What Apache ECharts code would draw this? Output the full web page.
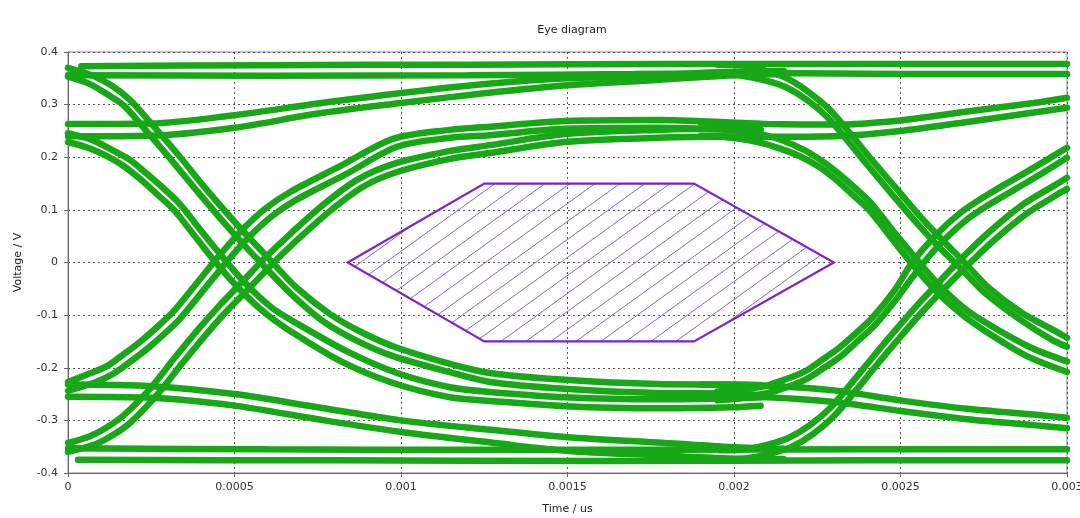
<!DOCTYPE html>
<html>
<head>
<meta charset="utf-8">
<script src="https://cdn.jsdelivr.net/npm/echarts@6/dist/echarts.min.js"></script>
<style>
  html, body { margin: 0; padding: 0; background: #fff; }
  #chart { width: 1080px; height: 518px; }
</style>
</head>
<body>
<div id="chart"></div>
<script>
// axis ticks
var xTickLabels = ['0', '0.0005', '0.001', '0.0015', '0.002', '0.0025', '0.003'];
var yTickLabels = ['-0.4', '-0.3', '-0.2', '-0.1', '0', '0.1', '0.2', '0.3', '0.4'];

// eye mask (hexagon)
var maskX = [0.00084, 0.00125, 0.00188, 0.0023, 0.00188, 0.00125];
var maskY = [0, 0.15, 0.15, 0, -0.15, -0.15];

// flat top / bottom levels
var topA = [[0.00004,0.373],[0.0006,0.375],[0.0012,0.376],[0.0018,0.377],[0.0024,0.377],[0.003,0.377]];
var topB = [[0,0.356],[0.0006,0.355],[0.0012,0.356],[0.0017,0.358],[0.0021,0.36],[0.0025,0.358],[0.003,0.358]];
var botA = [[0,-0.353],[0.0006,-0.355],[0.0012,-0.356],[0.0018,-0.356],[0.0024,-0.355],[0.003,-0.355]];
var botB = [[0.00003,-0.375],[0.0008,-0.376],[0.0016,-0.377],[0.0024,-0.376],[0.003,-0.376]];

// slow rise / fall (left part)
var slowRiseA = [[0,0.263],[0.00025,0.264],[0.0005,0.28],[0.00075,0.302],[0.001,0.322],[0.00127,0.34],[0.0015,0.35],[0.00177,0.356],[0.00197,0.362],[0.00215,0.364]];
var slowRiseB = [[0,0.24],[0.00025,0.241],[0.0005,0.256],[0.00075,0.283],[0.001,0.303],[0.00127,0.323],[0.0015,0.337],[0.00177,0.347],[0.00197,0.355],[0.00215,0.358]];
var slowFallA = [[0,-0.232],[0.00025,-0.235],[0.0005,-0.25],[0.00075,-0.275],[0.001,-0.3],[0.00127,-0.318],[0.0015,-0.332],[0.00177,-0.342],[0.00197,-0.35],[0.00215,-0.354]];
var slowFallB = [[0,-0.255],[0.00025,-0.257],[0.0005,-0.272],[0.00075,-0.298],[0.001,-0.322],[0.00127,-0.342],[0.0015,-0.358],[0.00177,-0.366],[0.00197,-0.372],[0.00215,-0.374]];

// falling edges (left crossing)
var fallHighA = [[0,0.37],[0.000075,0.355],[0.000132,0.336],[0.000186,0.309],[0.000264,0.254],[0.000336,0.201],[0.000405,0.147],[0.000474,0.096],[0.000547,0.045],[0.000607,0.005],[0.000685,-0.047],[0.000787,-0.098],[0.000886,-0.134],[0.000988,-0.162],[0.00115,-0.193],[0.001267,-0.21],[0.001492,-0.223],[0.001769,-0.231],[0.001997,-0.232],[0.00208,-0.233]];
var fallHighB = [[0,0.353],[0.000066,0.339],[0.000117,0.32],[0.000168,0.298],[0.000246,0.242],[0.000318,0.189],[0.000387,0.136],[0.000456,0.085],[0.000529,0.033],[0.000589,-0.007],[0.000667,-0.058],[0.000769,-0.113],[0.000868,-0.149],[0.000976,-0.178],[0.001144,-0.208],[0.001267,-0.227],[0.001492,-0.24],[0.001769,-0.248],[0.001997,-0.249],[0.00208,-0.252]];
var fallMidA = [[0,0.246],[0.000072,0.233],[0.000132,0.214],[0.000186,0.195],[0.000234,0.17],[0.000285,0.142],[0.000336,0.111],[0.000405,0.056],[0.000471,0.005],[0.000535,-0.041],[0.00061,-0.085],[0.000685,-0.115],[0.000835,-0.168],[0.000988,-0.21],[0.001147,-0.237],[0.001267,-0.246],[0.001492,-0.256],[0.001769,-0.26],[0.001997,-0.258],[0.00208,-0.256]];
var fallMidB = [[0,0.229],[0.00006,0.218],[0.000117,0.202],[0.000168,0.183],[0.000216,0.159],[0.000267,0.13],[0.000318,0.1],[0.000387,0.045],[0.000453,-0.007],[0.000517,-0.052],[0.000592,-0.096],[0.000667,-0.13],[0.000817,-0.187],[0.000976,-0.229],[0.001147,-0.256],[0.001267,-0.263],[0.001492,-0.273],[0.001769,-0.277],[0.001997,-0.275],[0.00208,-0.272]];

// rising edges (left crossing)
var riseMidA = [[0,-0.227],[0.000069,-0.21],[0.000117,-0.197],[0.000168,-0.174],[0.000216,-0.151],[0.000267,-0.123],[0.000318,-0.092],[0.000387,-0.039],[0.000453,0.012],[0.000517,0.058],[0.000592,0.102],[0.000667,0.134],[0.000817,0.183],[0.000976,0.235],[0.001147,0.252],[0.001267,0.258],[0.001492,0.269],[0.001769,0.271],[0.001997,0.266],[0.00208,0.263]];
var riseMidB = [[0,-0.244],[0.000084,-0.227],[0.000135,-0.212],[0.000186,-0.189],[0.000234,-0.166],[0.000285,-0.138],[0.000336,-0.107],[0.000405,-0.054],[0.000471,-0.003],[0.000535,0.043],[0.00061,0.087],[0.000685,0.119],[0.000835,0.168],[0.000988,0.22],[0.001147,0.237],[0.001267,0.242],[0.001492,0.254],[0.001769,0.256],[0.001997,0.252],[0.00208,0.25]];
var riseLowA = [[0,-0.343],[0.000066,-0.33],[0.000117,-0.313],[0.000168,-0.29],[0.000246,-0.24],[0.000318,-0.183],[0.000387,-0.13],[0.000456,-0.081],[0.000529,-0.033],[0.000589,0.007],[0.000667,0.054],[0.000769,0.111],[0.000868,0.157],[0.000976,0.187],[0.001147,0.212],[0.001267,0.223],[0.001492,0.244],[0.001769,0.252],[0.001997,0.254],[0.00208,0.252]];
var riseLowB = [[0,-0.36],[0.000084,-0.345],[0.000135,-0.328],[0.000186,-0.305],[0.000264,-0.254],[0.000336,-0.197],[0.000405,-0.144],[0.000474,-0.094],[0.000547,-0.047],[0.000607,-0.007],[0.000685,0.041],[0.000787,0.098],[0.000886,0.144],[0.000988,0.172],[0.001147,0.197],[0.001267,0.208],[0.001492,0.229],[0.001769,0.237],[0.001997,0.239],[0.00208,0.238]];

// right part
var slowRiseRA = [[0.0019,0.266],[0.0021,0.263],[0.0023,0.262],[0.0025,0.27],[0.0027,0.287],[0.0029,0.303],[0.003,0.313]];
var slowRiseRB = [[0.0019,0.241],[0.0021,0.239],[0.0023,0.24],[0.0025,0.25],[0.0027,0.267],[0.0029,0.285],[0.003,0.294]];
var slowFallRA = [[0.0019,-0.232],[0.0021,-0.234],[0.0023,-0.243],[0.0025,-0.262],[0.0027,-0.278],[0.0029,-0.289],[0.003,-0.295]];
var slowFallRB = [[0.0019,-0.254],[0.0021,-0.256],[0.0023,-0.265],[0.0025,-0.282],[0.0027,-0.298],[0.0029,-0.309],[0.003,-0.315]];
var fallHighRA = [[0.00195,0.376],[0.002033,0.374],[0.002108,0.362],[0.002168,0.347],[0.002228,0.322],[0.002288,0.29],[0.002348,0.246],[0.002414,0.195],[0.002483,0.144],[0.002553,0.092],[0.002625,0.043],[0.002688,0.003],[0.002763,-0.047],[0.002865,-0.096],[0.002964,-0.13],[0.003,-0.143]];
var fallHighRB = [[0.00195,0.358],[0.002024,0.355],[0.002099,0.345],[0.002159,0.332],[0.002219,0.309],[0.002279,0.277],[0.002339,0.233],[0.002405,0.182],[0.002474,0.13],[0.002543,0.079],[0.002616,0.029],[0.002679,-0.01],[0.002754,-0.058],[0.002856,-0.107],[0.002955,-0.147],[0.003,-0.16]];
var fallMidRA = [[0.00195,0.258],[0.002018,0.25],[0.002093,0.242],[0.00215,0.231],[0.00221,0.214],[0.002264,0.193],[0.002312,0.17],[0.002363,0.142],[0.002414,0.111],[0.002483,0.056],[0.00255,0.005],[0.002613,-0.041],[0.002688,-0.085],[0.002763,-0.117],[0.002889,-0.161],[0.003,-0.188]];
var fallMidRB = [[0.00195,0.24],[0.002018,0.235],[0.002084,0.227],[0.002141,0.216],[0.002198,0.202],[0.002255,0.182],[0.002303,0.159],[0.002354,0.13],[0.002405,0.1],[0.002474,0.045],[0.00254,-0.007],[0.002603,-0.052],[0.002679,-0.096],[0.002754,-0.13],[0.00288,-0.178],[0.003,-0.208]];
var riseMidRA = [[0.00195,-0.245],[0.002018,-0.242],[0.002093,-0.235],[0.00215,-0.223],[0.00221,-0.208],[0.002264,-0.185],[0.002312,-0.164],[0.002363,-0.136],[0.002414,-0.106],[0.002483,-0.052],[0.002534,-0.001],[0.002603,0.05],[0.002679,0.094],[0.002754,0.126],[0.002889,0.176],[0.003,0.218]];
var riseMidRB = [[0.00195,-0.262],[0.002018,-0.258],[0.002102,-0.248],[0.002159,-0.237],[0.002219,-0.221],[0.002273,-0.199],[0.002321,-0.178],[0.002372,-0.149],[0.002423,-0.119],[0.002492,-0.066],[0.00255,-0.016],[0.002619,0.035],[0.002694,0.079],[0.002769,0.111],[0.002898,0.159],[0.003,0.199]];
var riseLowRA = [[0.00196,-0.357],[0.002033,-0.355],[0.002108,-0.345],[0.002168,-0.332],[0.002228,-0.309],[0.002288,-0.277],[0.002348,-0.233],[0.002414,-0.182],[0.002483,-0.13],[0.002553,-0.079],[0.002625,-0.031],[0.002679,0.005],[0.002763,0.056],[0.002865,0.109],[0.002964,0.147],[0.003,0.161]];
var riseLowRB = [[0.00196,-0.375],[0.002042,-0.372],[0.002117,-0.362],[0.002177,-0.349],[0.002237,-0.326],[0.002297,-0.294],[0.002357,-0.25],[0.002423,-0.199],[0.002492,-0.147],[0.002562,-0.096],[0.002634,-0.048],[0.002691,-0.012],[0.002775,0.039],[0.002877,0.092],[0.002973,0.13],[0.003,0.14]];

var traces = [topA, topB, botA, botB,
  slowRiseA, slowRiseB, slowFallA, slowFallB,
  fallHighA, fallHighB, fallMidA, fallMidB,
  riseMidA, riseMidB, riseLowA, riseLowB,
  slowRiseRA, slowRiseRB, slowFallRA, slowFallRB,
  fallHighRA, fallHighRB, fallMidRA, fallMidRB,
  riseMidRA, riseMidRB, riseLowRA, riseLowRB];

var green = '#17a717';

// hatch pattern for the mask
var hatch = document.createElement('canvas');
hatch.width = 25;
hatch.height = 18;
var hc = hatch.getContext('2d');
hc.strokeStyle = '#8d63cf';
hc.lineWidth = 1;
hc.beginPath();
hc.moveTo(-25, 36); hc.lineTo(50, -18);
hc.stroke();

var chart = echarts.init(document.getElementById('chart'));

var series = traces.map(function (t) {
    return {
        type: 'line',
        data: t,
        smooth: 0.3,
        showSymbol: false,
        silent: true,
        lineStyle: { color: green, width: 6.5, cap: 'round' },
        z: 2
    };
});

series.push({
    type: 'custom',
    silent: true,
    z: 3,
    data: [0],
    renderItem: function (params, api) {
        var pts = [];
        for (var i = 0; i < maskX.length; i++) {
            pts.push(api.coord([maskX[i], maskY[i]]));
        }
        return {
            type: 'polygon',
            shape: { points: pts },
            style: {
                fill: { image: hatch, repeat: 'repeat' },
                stroke: '#7a22d4',
                lineWidth: 2.2
            }
        };
    }
});

var option = {
    animation: false,
    backgroundColor: '#fff',
    title: {
        text: 'Eye diagram',
        left: 567,
        top: 20,
        textAlign: 'center',
        textStyle: { fontFamily: 'DejaVu Sans', fontSize: 11, fontWeight: 'normal', color: '#222' }
    },
    grid: {
        left: 68, right: 13, top: 52, bottom: 45,
        outerBoundsMode: 'none',
        containLabel: false,
        show: true, borderColor: '#888', borderWidth: 1
    },
    xAxis: {
        type: 'value',
        min: 0, max: 0.003, interval: 0.0005,
        name: 'Time / us',
        nameLocation: 'middle',
        nameGap: 31,
        nameTextStyle: { fontFamily: 'DejaVu Sans', fontSize: 11, color: '#222' },
        axisLine: { onZero: false, lineStyle: { color: '#666' } },
        axisTick: { show: true, length: 4, lineStyle: { color: '#666' } },
        axisLabel: {
            margin: 9,
            fontFamily: 'DejaVu Sans', fontSize: 11, color: '#333',
            formatter: function (v) { return xTickLabels[Math.round(v / 0.0005)]; }
        },
        splitLine: { show: true, lineStyle: { color: '#555', type: [2, 3], width: 1 } }
    },
    yAxis: {
        type: 'value',
        min: -0.4, max: 0.4, interval: 0.1,
        name: 'Voltage / V',
        nameLocation: 'middle',
        nameGap: 44,
        nameTextStyle: { fontFamily: 'DejaVu Sans', fontSize: 11, color: '#222' },
        axisLine: { show: true, onZero: false, lineStyle: { color: '#666' } },
        axisTick: { show: true, length: 4, lineStyle: { color: '#666' } },
        axisLabel: {
            margin: 10,
            fontFamily: 'DejaVu Sans', fontSize: 11, color: '#333',
            formatter: function (v) { return yTickLabels[Math.round((v + 0.4) / 0.1)]; }
        },
        splitLine: { show: true, lineStyle: { color: '#555', type: [2, 3], width: 1 } }
    },
    series: series
};

chart.setOption(option);
</script>
</body>
</html>
